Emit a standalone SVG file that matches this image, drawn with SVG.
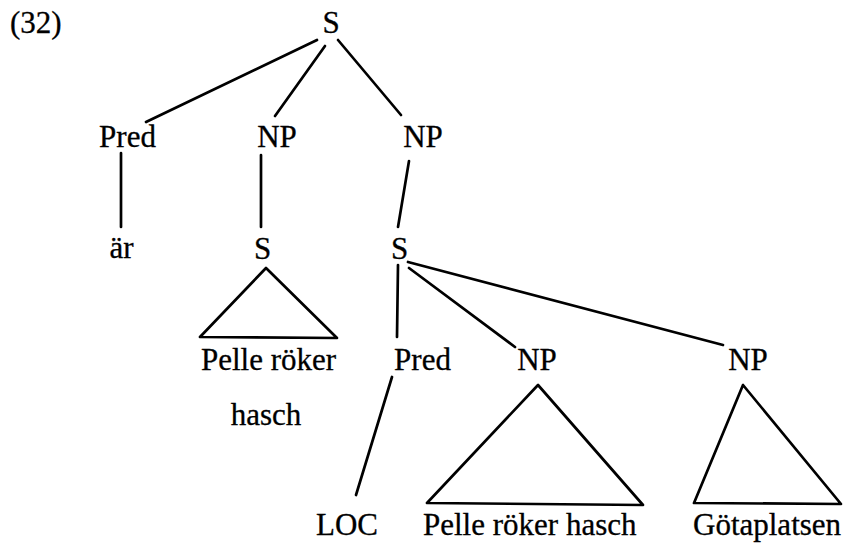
<svg xmlns="http://www.w3.org/2000/svg" width="846" height="545" viewBox="0 0 846 545">
  <style>
    text { font-family: "Liberation Serif", "Times New Roman", serif; font-size: 31px; fill: #000; stroke: #000; stroke-width: 0.3; }
    .m { text-anchor: middle; }
    .edge { stroke: #000; stroke-width: 2.7; stroke-linecap: round; fill: none; }
    .tri { stroke: #000; stroke-width: 2.7; stroke-linejoin: round; fill: none; }
  </style>
  <rect width="846" height="545" fill="#fff"/>

  <text x="10" y="33">(32)</text>

  <!-- tree connectors -->
  <g id="connectors">
    <line class="edge" x1="317" y1="40" x2="146" y2="122"/>
    <line class="edge" x1="325" y1="46" x2="275" y2="116"/>
    <line class="edge" x1="338" y1="40" x2="401" y2="115"/>
    <line class="edge" x1="121" y1="153" x2="121" y2="227"/>
    <line class="edge" x1="261" y1="155" x2="261" y2="227"/>
    <line class="edge" x1="409" y1="161" x2="398" y2="227"/>
    <line class="edge" x1="398" y1="265" x2="397" y2="337"/>
    <line class="edge" x1="409" y1="268" x2="515" y2="347"/>
    <line class="edge" x1="408" y1="262" x2="723" y2="345"/>
    <line class="edge" x1="392" y1="377" x2="356" y2="495"/>
    <polygon class="tri" points="266,268 200,337 337,338"/>
    <polygon class="tri" points="538,385 427,503 643,505"/>
    <polygon class="tri" points="743,385 694,503 841,504"/>
  </g>

  <g id="n-s-root"><text class="m" x="331" y="33">S</text></g>
  <g id="n-pred1"><text class="m" x="127.5" y="147">Pred</text></g>
  <g id="n-np1"><text class="m" x="277" y="147">NP</text></g>
  <g id="n-np2"><text class="m" x="423" y="147">NP</text></g>
  <g id="n-ar"><text class="m" x="121.5" y="258">är</text></g>
  <g id="n-s1"><text class="m" x="262.5" y="259">S</text></g>
  <g id="n-s2"><text class="m" x="399.5" y="259">S</text></g>
  <g id="n-s1-yield">
    <text class="m" x="268.5" y="370">Pelle röker</text>
    <text class="m" x="266" y="425">hasch</text>
  </g>
  <g id="n-pred2"><text class="m" x="422.5" y="370">Pred</text></g>
  <g id="n-np3"><text class="m" x="537" y="370">NP</text></g>
  <g id="n-np4"><text class="m" x="748" y="370">NP</text></g>
  <g id="n-loc"><text class="m" x="347" y="535">LOC</text></g>
  <g id="n-np3-yield"><text x="423" y="535">Pelle röker hasch</text></g>
  <g id="n-np4-yield"><text x="693" y="535">Götaplatsen</text></g>
</svg>
